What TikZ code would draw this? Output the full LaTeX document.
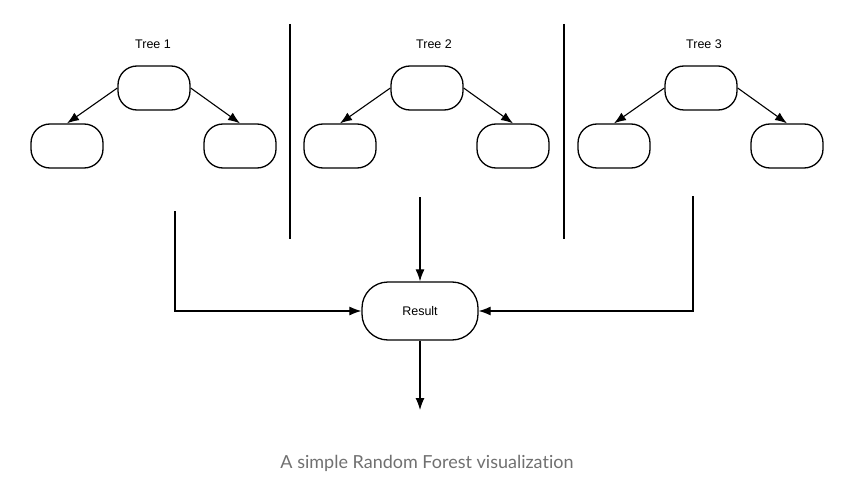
\documentclass[tikz,border=0pt]{standalone}
\usepackage{fontspec}
\setmainfont{Liberation Sans}
\newfontfamily\captionfont[Ligatures=NoCommon]{Lato}
\usetikzlibrary{arrows.meta, positioning}
\definecolor{captiongray}{RGB}{112, 112, 112}

\tikzset{
    treenode/.style={draw, line width=1.3pt, rounded corners=19pt, minimum width=72pt, minimum height=44pt},
    resultnode/.style={draw, line width=1.3pt, rounded corners=26pt, minimum width=116pt, minimum height=58pt, font=\fontsize{12.5}{14}\selectfont},
    treelabel/.style={font=\fontsize{12.5}{14}\selectfont},
    link/.style={line width=1.1pt, -{Latex[length=12pt,width=9pt]}},
    divider/.style={line width=1.3pt}
}

\begin{document}
\begin{tikzpicture}[x=1pt, y=-1pt]
    \useasboundingbox (0,0) rectangle (858,481);

    % Tree 1
    \node[treelabel] (label1) at (153,44) {Tree 1};
    \node[treenode] (root1) at (154,88) {};
    \node[treenode] (left1) at (67,146) {};
    \node[treenode] (right1) at (240,146) {};
    \draw[link] (root1.west) -- (left1.north);
    \draw[link] (root1.east) -- (right1.north);

    % Tree 2
    \node[treelabel] (label2) at (434,44) {Tree 2};
    \node[treenode] (root2) at (427,88) {};
    \node[treenode] (left2) at (340,146) {};
    \node[treenode] (right2) at (513,146) {};
    \draw[link] (root2.west) -- (left2.north);
    \draw[link] (root2.east) -- (right2.north);

    % Tree 3
    \node[treelabel] (label3) at (704,44) {Tree 3};
    \node[treenode] (root3) at (701,88) {};
    \node[treenode] (left3) at (614,146) {};
    \node[treenode] (right3) at (787,146) {};
    \draw[link] (root3.west) -- (left3.north);
    \draw[link] (root3.east) -- (right3.north);

    % Dividers
    \coordinate (div1top) at (290,24);
    \coordinate (div1bot) at (290,239);
    \coordinate (div2top) at (564,24);
    \coordinate (div2bot) at (564,239);
    \draw[divider] (div1top) -- (div1bot);
    \draw[divider] (div2top) -- (div2bot);

    % Voting
    \node[resultnode] (result) at (420,311) {Result};
    \coordinate (out1) at (175,211);
    \coordinate (out2) at (420,197);
    \coordinate (out3) at (693,196);
    \coordinate (final) at (420,410);
    \draw[link] (out1) |- (result.west);
    \draw[link] (out2) -- (result.north);
    \draw[link] (out3) |- (result.east);
    \draw[link] (result.south) -- (final);

    % Caption
    \node[font=\captionfont\fontsize{18}{21}\selectfont, text=captiongray] (caption) at (427,463) {A simple Random Forest visualization};
\end{tikzpicture}
\end{document}
